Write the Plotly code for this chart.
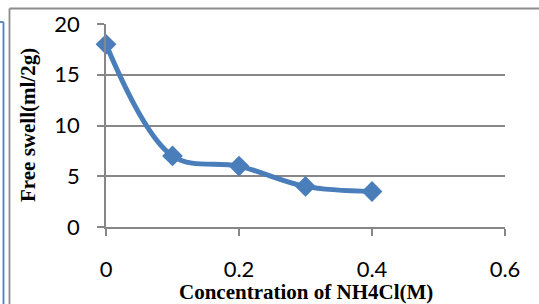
import plotly.graph_objects as go

conc = [0, 0.1, 0.2, 0.3, 0.4]
swell = [18, 7, 6, 4, 3.5]
x_ticks = [0, 0.2, 0.4, 0.6]
x_tick_labels = ["0", "0.2", "0.4", "0.6"]
y_ticks = [0, 5, 10, 15, 20]

W, H = 539, 304
L, R, T, B = 106, 34, 24, 77
pw = W - L - R
ph = H - T - B

def px(x):
    return (x - L) / pw

def py(y):
    return (H - B - y) / ph

line_color = "#4a7ebb"
grid = "#878787"

fig = go.Figure()
fig.add_trace(go.Scatter(
    x=conc, y=swell, mode="lines+markers",
    line=dict(color=line_color, width=5, shape="spline", smoothing=1.0),
    marker=dict(symbol="diamond", size=16, color=line_color),
    showlegend=False, cliponaxis=False,
))

fig.update_layout(
    width=W, height=H,
    margin=dict(l=L, r=R, t=T, b=B, autoexpand=False),
    paper_bgcolor="white", plot_bgcolor="white",
    font=dict(family="Lato", color="#000"),
    xaxis=dict(
        range=[0, 0.6], tickvals=x_ticks, ticktext=x_tick_labels,
        showgrid=False, zeroline=False, showline=True, linecolor=grid, linewidth=1.5,
        ticks="outside", tickcolor=grid, ticklen=7, tickwidth=1.5,
        tickfont=dict(size=22, family="Lato"), ticklabelstandoff=15,
        automargin=False,
    ),
    yaxis=dict(
        range=[0, 20], tickvals=y_ticks,
        showgrid=True, gridcolor=grid, gridwidth=1.5,
        zeroline=False, showline=True, linecolor=grid, linewidth=1.5,
        ticks="outside", tickcolor=grid, ticklen=7, tickwidth=1.5,
        tickfont=dict(size=22, family="Lato"), ticklabelstandoff=13,
        automargin=False,
    ),
    annotations=[
        dict(text="<b>Concentration of NH4Cl(M)</b>", xref="paper", yref="paper",
             x=px(306), y=py(292), xanchor="center", yanchor="middle", showarrow=False,
             font=dict(family="Liberation Serif", size=21, color="#000")),
        dict(text="<b>Free swell(ml/2g)</b>", xref="paper", yref="paper",
             x=px(28), y=py(125), xanchor="center", yanchor="middle", showarrow=False,
             textangle=-90, font=dict(family="Liberation Serif", size=21, color="#000")),
    ],
    shapes=[
        dict(type="line", xref="paper", yref="paper", x0=px(9.5), x1=px(545), y0=py(8.5), y1=py(8.5),
             line=dict(color="#8c8c8c", width=1.8)),
        dict(type="line", xref="paper", yref="paper", x0=px(9.5), x1=px(9.5), y0=py(8.5), y1=py(310),
             line=dict(color="#8c8c8c", width=1.8)),
        dict(type="line", xref="paper", yref="paper", x0=px(-5), x1=px(3.5), y0=py(22), y1=py(22),
             line=dict(color="#4f81bd", width=1.8)),
        dict(type="line", xref="paper", yref="paper", x0=px(3.5), x1=px(3.5), y0=py(22), y1=py(310),
             line=dict(color="#4f81bd", width=1.8)),
    ],
)

fig.write_html("out.html", config={"displayModeBar": False},
               post_script="document.body.style.margin='0';document.body.style.overflow='hidden';")
